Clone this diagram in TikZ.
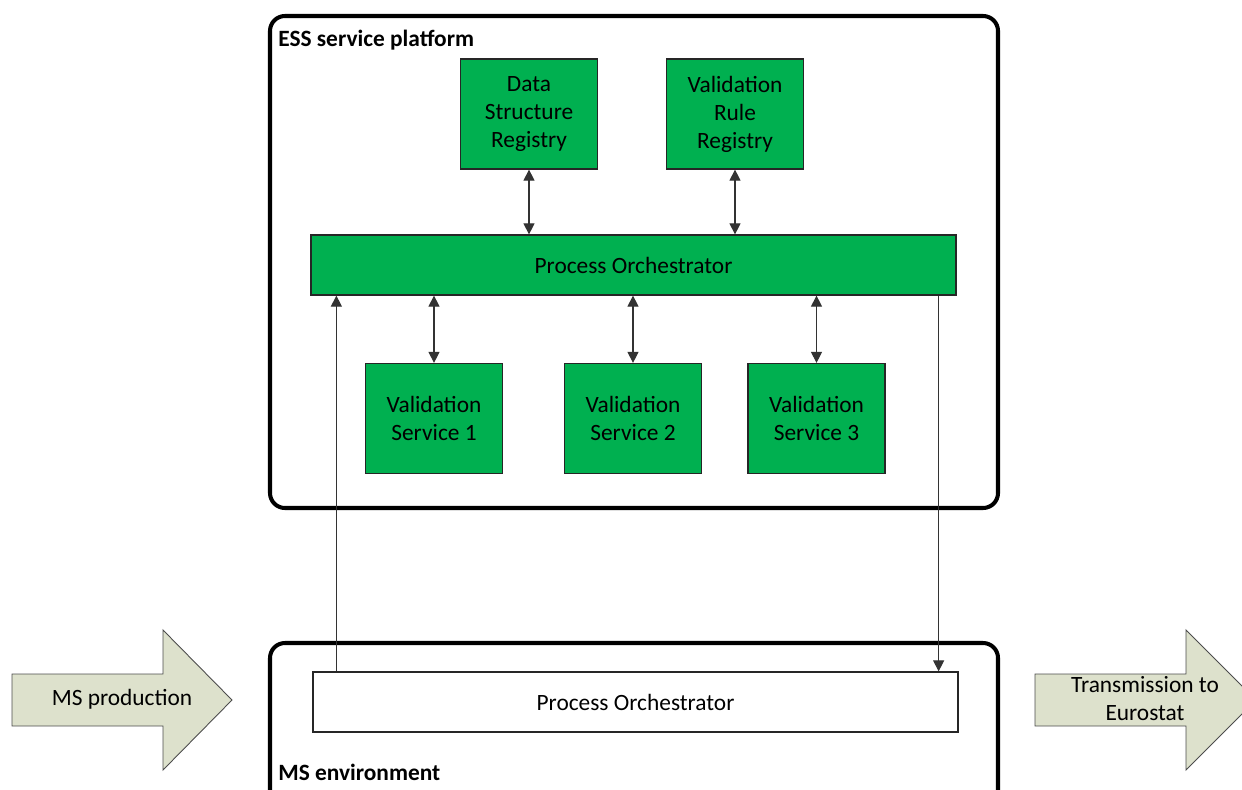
\documentclass[tikz,border=0pt]{standalone}
\usepackage{fontspec}
\setmainfont{Carlito}
\usepackage{xcolor}
\usetikzlibrary{arrows.meta, positioning, calc}
\definecolor{essgreen}{RGB}{0,176,80}
\definecolor{arrowtan}{RGB}{221,225,204}

\begin{document}
\begin{tikzpicture}[x=0.2mm, y=-0.2mm,
    every node/.style={font=\fontsize{13.3}{15.9}\selectfont, align=center, inner sep=0pt},
    frame/.style={draw, line width=2.3pt, rounded corners=3mm},
    framelabel/.style={anchor=west, font=\fontsize{13.3}{15.9}\selectfont\bfseries},
    svcbox/.style={rectangle, draw=black!85, line width=0.7pt, fill=essgreen, minimum width=27.4mm, minimum height=22mm},
    orchbox/.style={rectangle, draw=black!85, line width=0.7pt, minimum width=129mm, minimum height=12mm},
    flow/.style={draw=black!80, line width=0.6pt, -{Triangle[length=2.2mm, width=2.2mm]}},
    link/.style={draw=black!80, line width=0.6pt, {Triangle[length=2.2mm, width=2.2mm]}-{Triangle[length=2.2mm, width=2.2mm]}},
    bigarrow/.style={draw=black!70, line width=0.5pt, fill=arrowtan}]
    \useasboundingbox (0,0) rectangle (1242,789);

    % ESS service platform
    \draw[frame] (270,16) rectangle (998,508);
    \node[framelabel] (esslabel) at (278,40) {ESS service platform};
    \node[svcbox] (dsr) at (529,114) {Data\\Structure\\Registry};
    \node[svcbox] (vrr) at (735,114) {Validation\\Rule\\Registry};
    \node[orchbox, fill=essgreen] (po) at (633.5,265) {Process Orchestrator};
    \node[svcbox] (vs1) at (434,418.5) {Validation\\Service 1};
    \node[svcbox] (vs2) at (633,418.5) {Validation\\Service 2};
    \node[svcbox] (vs3) at (816.5,418.5) {Validation\\Service 3};
    \draw[link] (dsr.south) -- (dsr.south |- po.north);
    \draw[link] (vrr.south) -- (vrr.south |- po.north);
    \foreach \s in {vs1, vs2, vs3}
        \draw[link] (\s.north) -- (\s.north |- po.south);

    % MS environment
    \draw[frame] (270,643) rectangle (998,820);
    \node[framelabel] (mslabel) at (278,772) {MS environment};
    \node[orchbox, fill=white] (lpo) at (635.5,702) {Process Orchestrator};
    \coordinate (upstart) at ($(lpo.north west)+(24,0)$);
    \coordinate (downend) at ($(lpo.north east)+(-20,0)$);
    \draw[flow] (upstart) -- (upstart |- po.south);
    \draw[flow] (downend |- po.south) -- (downend);

    % big arrows
    \draw[bigarrow] (12,674) -- (163,674) -- (163,630) -- (232,700) -- (163,770) -- (163,726) -- (12,726) -- cycle;
    \node (msprod) at (122,699) {MS production};
    \draw[bigarrow] (1035,674) -- (1186,674) -- (1186,630) -- (1256,700) -- (1186,770) -- (1186,726) -- (1035,726) -- cycle;
    \node (transm) at (1145,699) {Transmission to\\Eurostat};
\end{tikzpicture}
\end{document}
